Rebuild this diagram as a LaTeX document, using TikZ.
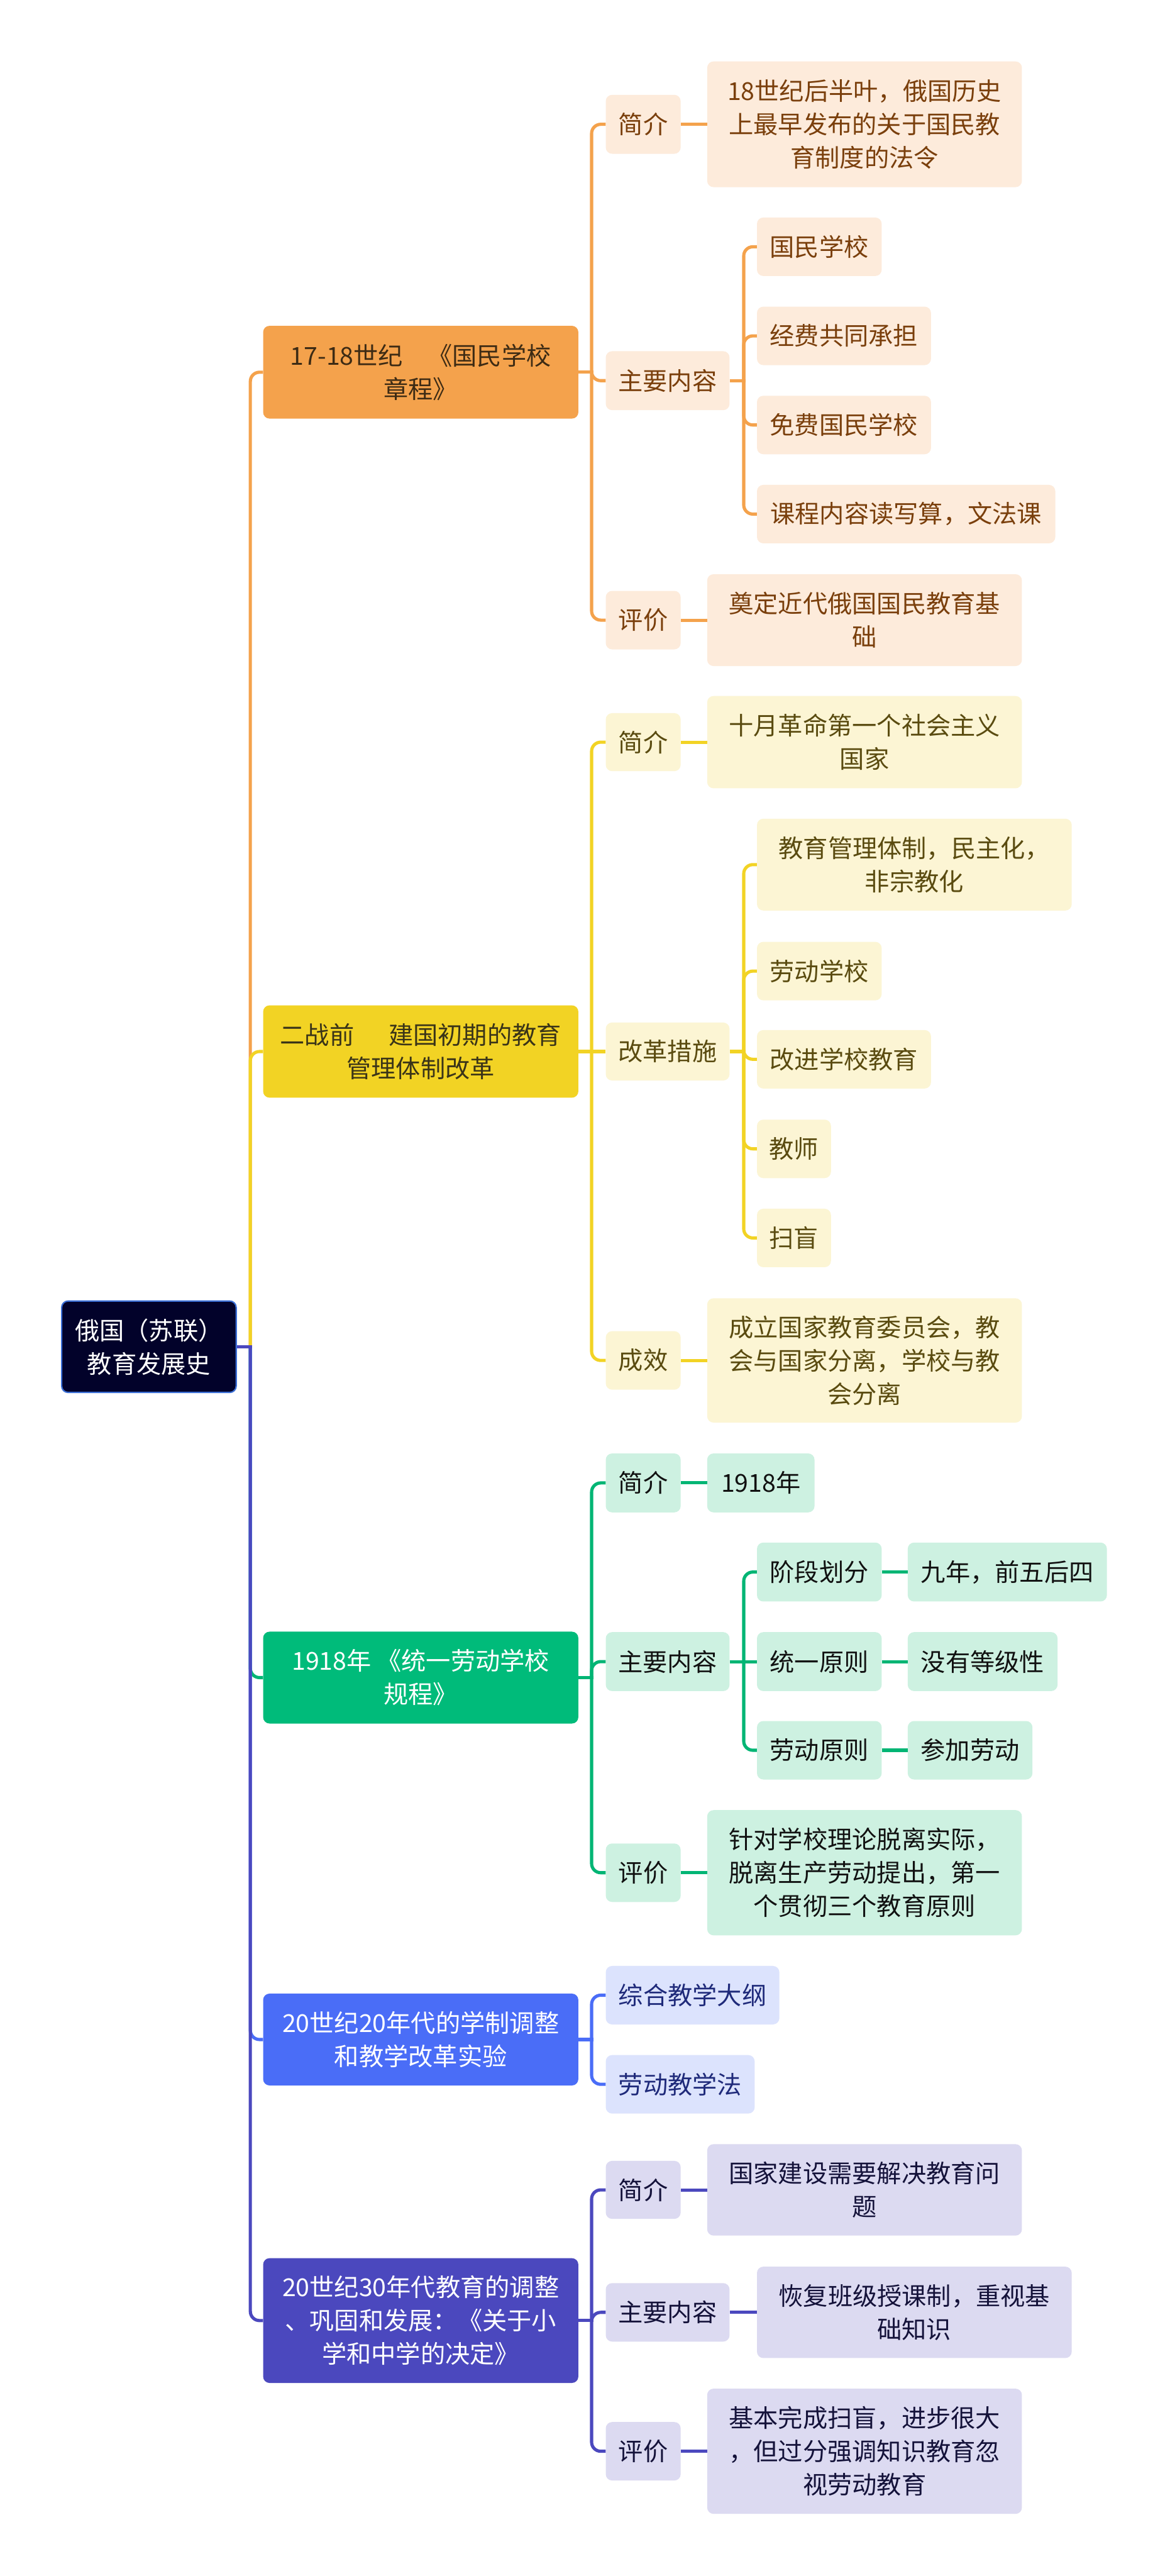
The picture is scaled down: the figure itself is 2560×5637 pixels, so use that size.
\documentclass[tikz,border=0pt]{standalone}
\usepackage{fontspec}
\newfontfamily\cjk{Noto Sans CJK SC}
\usetikzlibrary{calc}
\definecolor{orA}{HTML}{F4A24C}
\definecolor{orB}{HTML}{FDEBDB}
\definecolor{orT}{HTML}{7A3F0C}
\definecolor{orL}{HTML}{3D2B14}
\definecolor{yeA}{HTML}{F2D324}
\definecolor{yeB}{HTML}{FCF5D4}
\definecolor{yeT}{HTML}{5A4B10}
\definecolor{yeL}{HTML}{3A3418}
\definecolor{grA}{HTML}{00BB7A}
\definecolor{grLine}{HTML}{00B574}
\definecolor{grB}{HTML}{CDF1E1}
\definecolor{grT}{HTML}{111111}
\definecolor{blA}{HTML}{4A6DF7}
\definecolor{blB}{HTML}{DCE3FD}
\definecolor{blT}{HTML}{1F2A7A}
\definecolor{puA}{HTML}{4B48BE}
\definecolor{puB}{HTML}{DCDAF1}
\definecolor{puT}{HTML}{14123A}
\definecolor{rootF}{HTML}{02022A}
\definecolor{rootD}{HTML}{3B6FD6}
\tikzset{
  box/.style={rounded corners=14pt, inner sep=0pt, align=center, anchor=center,
    font=\cjk\fontsize{54pt}{73pt}\selectfont},
  bx/.style 2 args={minimum width=#1pt, minimum height=#2pt},
  lvO/.style={box, fill=orA, text=orL},
  lvY/.style={box, fill=yeA, text=yeL},
  lvG/.style={box, fill=grA, text=white},
  lvB/.style={box, fill=blA, text=white},
  lvP/.style={box, fill=puA, text=white},
  sO/.style={box, fill=orB, text=orT},
  sY/.style={box, fill=yeB, text=yeT},
  sG/.style={box, fill=grB, text=grT},
  sB/.style={box, fill=blB, text=blT},
  sP/.style={box, fill=puB, text=puT},
  conn/.style={line width=7pt, rounded corners=20pt},
}
\begin{document}
\begin{tikzpicture}[x=1pt, y=-1pt]
\fill[white] (0,0) rectangle (2560,5637);
\useasboundingbox (0,0) rectangle (2560,5637);

% root
\node[box, fill=rootF, draw=rootD, line width=3pt, text=white, bx={382}{200}] (root) at (326,2947) {俄国（苏联）\\教育发展史};

% level 1
\node[lvO, bx={690}{203}] (o1) at (921,814.5) {17-18世纪　《国民学校\\章程》};
\node[lvY, bx={690}{202}] (y1) at (921,2301) {二战前\hspace{1.4em}建国初期的教育\\管理体制改革};
\node[lvG, bx={690}{201}] (g1) at (921,3671) {1918年 《统一劳动学校\\规程》};
\node[lvB, bx={690}{201}] (b1) at (921,4463) {20世纪20年代的学制调整\\和教学改革实验};
\node[lvP, bx={690}{273}] (p1) at (921,5078) {20世纪30年代教育的调整\\、巩固和发展：《关于小\\学和中学的决定》};

% orange branch
\node[sO, bx={164}{129}] (oa) at (1408,272) {简介};
\node[sO, bx={689}{275}] (oad) at (1892.5,272) {18世纪后半叶，俄国历史\\上最早发布的关于国民教\\育制度的法令};
\node[sO, bx={271}{129}] (ob) at (1461.5,833) {主要内容};
\node[sO, bx={273}{128}] (ob1) at (1793.5,540) {国民学校};
\node[sO, bx={381}{128}] (ob2) at (1847.5,735) {经费共同承担};
\node[sO, bx={381}{128}] (ob3) at (1847.5,930) {免费国民学校};
\node[sO, bx={653}{128}] (ob4) at (1983.5,1125) {课程内容读写算，文法课};
\node[sO, bx={164}{128}] (oc) at (1408,1357) {评价};
\node[sO, bx={689}{201}] (ocd) at (1892.5,1357) {奠定近代俄国国民教育基\\础};

% yellow branch
\node[sY, bx={164}{127}] (ya) at (1408,1624) {简介};
\node[sY, bx={689}{202}] (yad) at (1892.5,1624) {十月革命第一个社会主义\\国家};
\node[sY, bx={271}{127}] (yb) at (1461.5,2301) {改革措施};
\node[sY, bx={689}{201}] (yb1) at (2001.5,1892) {教育管理体制，民主化，\\非宗教化};
\node[sY, bx={273}{128}] (yb2) at (1793.5,2125) {劳动学校};
\node[sY, bx={381}{128}] (yb3) at (1847.5,2318) {改进学校教育};
\node[sY, bx={162}{128}] (yb4) at (1738,2514) {教师};
\node[sY, bx={162}{128}] (yb5) at (1738,2709) {扫盲};
\node[sY, bx={164}{128}] (yc) at (1408,2977) {成效};
\node[sY, bx={689}{272}] (ycd) at (1892.5,2977) {成立国家教育委员会，教\\会与国家分离，学校与教\\会分离};

% green branch
\node[sG, bx={164}{129}] (ga) at (1408,3245) {简介};
\node[sG, bx={235}{129}] (gad) at (1665.5,3245) {1918年};
\node[sG, bx={271}{129}] (gb) at (1461.5,3636) {主要内容};
\node[sG, bx={273}{129}] (gb1) at (1793.5,3440) {阶段划分};
\node[sG, bx={436}{129}] (gb1x) at (2205,3440) {九年，前五后四};
\node[sG, bx={273}{129}] (gb2) at (1793.5,3636) {统一原则};
\node[sG, bx={328}{129}] (gb2x) at (2151,3636) {没有等级性};
\node[sG, bx={273}{128}] (gb3) at (1793.5,3830) {劳动原则};
\node[sG, bx={273}{128}] (gb3x) at (2123.5,3830) {参加劳动};
\node[sG, bx={164}{128}] (gc) at (1408,4098) {评价};
\node[sG, bx={689}{274}] (gcd) at (1892.5,4098) {针对学校理论脱离实际，\\脱离生产劳动提出，第一\\个贯彻三个教育原则};

% blue branch
\node[sB, bx={380}{128}] (ba) at (1516,4366) {综合教学大纲};
\node[sB, bx={326}{128}] (bb) at (1489,4561) {劳动教学法};

% purple branch
\node[sP, bx={164}{127}] (pa) at (1408,4792) {简介};
\node[sP, bx={689}{200}] (pad) at (1892.5,4792) {国家建设需要解决教育问\\题};
\node[sP, bx={271}{128}] (pb) at (1461.5,5060) {主要内容};
\node[sP, bx={689}{200}] (pbd) at (2001.5,5060) {恢复班级授课制，重视基\\础知识};
\node[sP, bx={164}{128}] (pc) at (1408,5364) {评价};
\node[sP, bx={689}{274}] (pcd) at (1892.5,5364) {基本完成扫盲，进步很大\\，但过分强调知识教育忽\\视劳动教育};

% junction coordinates
\coordinate (rt) at (548,2947);
\coordinate (o1r) at (1295,814.5);
\coordinate (y1r) at (1295,2301);
\coordinate (g1r) at (1295,3671);
\coordinate (b1r) at (1295,4463);
\coordinate (p1r) at (1295,5078);
\coordinate (obr) at (1628,833);
\coordinate (ybr) at (1628,2301);
\coordinate (gbr) at (1628,3636);

% trunk connectors
\draw[conn, orA] (rt) |- (o1.west);
\draw[conn, yeA] (rt) |- (y1.west);
\draw[conn, grLine] (rt) |- (g1.west);
\draw[conn, blA] (rt) |- (b1.west);
\draw[conn, puA] (rt) |- (p1.west);
\draw[conn, puA] (root.east) -- ($(rt)+(3.5,0)$);

% orange connectors
\draw[conn, orA] (o1.east) -- ($(o1r)+(3.5,0)$);
\draw[conn, orA] (o1r) |- (oa.west);
\draw[conn, orA] (o1r) |- (ob.west);
\draw[conn, orA] (o1r) |- (oc.west);
\draw[conn, orA] (oa.east) -- (oad.west);
\draw[conn, orA] (oc.east) -- (ocd.west);
\draw[conn, orA] (ob.east) -- ($(obr)+(3.5,0)$);
\draw[conn, orA] (obr) |- (ob1.west);
\draw[conn, orA] (obr) |- (ob2.west);
\draw[conn, orA] (obr) |- (ob3.west);
\draw[conn, orA] (obr) |- (ob4.west);

% yellow connectors
\draw[conn, yeA] (y1.east) -- ($(y1r)+(3.5,0)$);
\draw[conn, yeA] (y1r) |- (ya.west);
\draw[conn, yeA] (y1r) -- (yb.west);
\draw[conn, yeA] (y1r) |- (yc.west);
\draw[conn, yeA] (ya.east) -- (yad.west);
\draw[conn, yeA] (yc.east) -- (ycd.west);
\draw[conn, yeA] (yb.east) -- ($(ybr)+(3.5,0)$);
\draw[conn, yeA] (ybr) |- (yb1.west);
\draw[conn, yeA] (ybr) |- (yb2.west);
\draw[conn, yeA] (ybr) |- (yb3.west);
\draw[conn, yeA] (ybr) |- (yb4.west);
\draw[conn, yeA] (ybr) |- (yb5.west);

% green connectors
\draw[conn, grLine] (g1.east) -- ($(g1r)+(3.5,0)$);
\draw[conn, grLine] (g1r) |- (ga.west);
\draw[conn, grLine] (g1r) |- (gb.west);
\draw[conn, grLine] (g1r) |- (gc.west);
\draw[conn, grLine] (ga.east) -- (gad.west);
\draw[conn, grLine] (gc.east) -- (gcd.west);
\draw[conn, grLine] (gb.east) -- ($(gbr)+(3.5,0)$);
\draw[conn, grLine] (gbr) |- (gb1.west);
\draw[conn, grLine] (gbr) -- (gb2.west);
\draw[conn, grLine] (gbr) |- (gb3.west);
\draw[conn, grLine] (gb1.east) -- (gb1x.west);
\draw[conn, grLine] (gb2.east) -- (gb2x.west);
\draw[conn, grLine] (gb3.east) -- (gb3x.west);

% blue connectors
\draw[conn, blA] (b1.east) -- ($(b1r)+(3.5,0)$);
\draw[conn, blA] (b1r) |- (ba.west);
\draw[conn, blA] (b1r) |- (bb.west);

% purple connectors
\draw[conn, puA] (p1.east) -- ($(p1r)+(3.5,0)$);
\draw[conn, puA] (p1r) |- (pa.west);
\draw[conn, puA] (p1r) |- (pb.west);
\draw[conn, puA] (p1r) |- (pc.west);
\draw[conn, puA] (pa.east) -- (pad.west);
\draw[conn, puA] (pb.east) -- (pbd.west);
\draw[conn, puA] (pc.east) -- (pcd.west);
\end{tikzpicture}
\end{document}
